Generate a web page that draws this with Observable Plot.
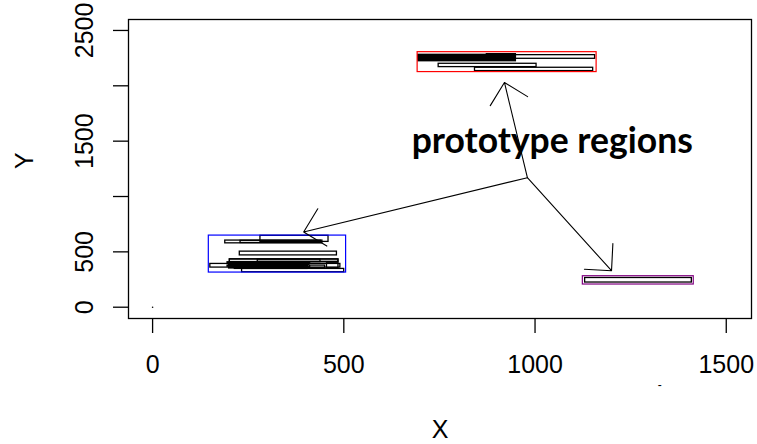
<!DOCTYPE html>
<html><head><meta charset="utf-8">
<script src="https://cdn.jsdelivr.net/npm/d3@7"></script>
<script src="https://cdn.jsdelivr.net/npm/@observablehq/plot@0.6"></script>
<style>body{margin:0;background:#fff}</style>
</head><body><div id="chart"></div>
<script>
// Axis ticks
const xTicks = [0, 500, 1000, 1500];
const yTicks = [0, 500, 1000, 1500, 2000, 2500];
const yTickLabels = [0, 500, 1500, 2500];

// Small rectangles (data units)
const rectX1 = [190, 230, 282, 228, 202, 275, 202, 196, 198, 200, 205, 196, 210, 200, 215, 151, 412, 456, 234,
                695, 748, 843, 695, 697, 695, 699, 695, 696, 695, 874,
                1131];
const rectX2 = [444, 440, 460, 482, 486, 486, 439, 412, 405, 410, 400, 408, 395, 410, 405, 491, 451, 486, 501,
                1157, 1004, 1152, 950, 948, 945, 950, 940, 950, 900, 950,
                1410];
const rectY1 = [577, 580, 590, 468, 406, 410, 408, 398, 390, 382, 374, 366, 358, 350, 346, 358, 352, 352, 316,
                2244, 2169, 2133, 2222, 2230, 2238, 2246, 2254, 2262, 2270, 2276,
                223];
const rectY2 = [602, 600, 645, 502, 433, 430, 431, 406, 400, 392, 384, 376, 368, 360, 354, 391, 376, 397, 346,
                2277, 2199, 2163, 2232, 2240, 2248, 2256, 2264, 2272, 2280, 2286,
                264];

// Prototype region boxes
const regionNames = ["blue", "red", "purple"];
const regionX1 = [147, 693, 1125];
const regionX2 = [506, 1161, 1415];
const regionY1 = [313, 2124, 205];
const regionY2 = [647, 2304, 280];
const regionColors = ["#5a5ae6", "#e63232", "#bf5fcf"];

// Arrows from the hub to each region
const arrowFromX = [980, 980, 980];
const arrowFromY = [1170, 1170, 1170];
const arrowToX = [920, 395, 1200];
const arrowToY = [2030, 680, 330];

// Annotation
const annotLabel = ["prototype regions"];
const annotX = [1045];
const annotY = [1500];

// Stray points
const originPt = [{x: 0, y: 0}];
const strayDash = [{x: 1326, y: -704}];

const rects = rectX1.map((d, i) => ({x1: d, x2: rectX2[i], y1: rectY1[i], y2: rectY2[i]}));
const regions = regionNames.map((n, i) => ({name: n, x1: regionX1[i], x2: regionX2[i], y1: regionY1[i], y2: regionY2[i]}));
const arrows = arrowFromX.map((d, i) => ({x1: d, y1: arrowFromY[i], x2: arrowToX[i], y2: arrowToY[i]}));
const annots = annotLabel.map((l, i) => ({label: l, x: annotX[i], y: annotY[i]}));

const font = "'Liberation Sans', Arial, Helvetica, sans-serif";

const chart = Plot.plot({
  width: 757, height: 444,
  marginLeft: 128, marginRight: 6, marginTop: 19, marginBottom: 126,
  x: {domain: [-63, 1566]},
  y: {domain: [-102, 2599]},
  color: {type: "ordinal", domain: regionNames, range: regionColors},
  style: {fontFamily: font, fontSize: "25px", color: "black", background: "white"},
  marks: [
    Plot.frame({stroke: "black", strokeWidth: 1.3}),
    Plot.axisX({ticks: xTicks, tickSize: 15, tickPadding: 22, label: null, fontSize: 25, strokeWidth: 1.3, tickFormat: d => String(d)}),
    Plot.axisY({ticks: yTicks, tickSize: 15, tickFormat: () => "", label: null, strokeWidth: 1.3}),
    Plot.text(yTickLabels, {y: d => d, frameAnchor: "left", text: d => String(d), rotate: -90,
      textAnchor: "middle", lineAnchor: "bottom", dx: -36, fontSize: 25}),
    Plot.text(["X"], {frameAnchor: "bottom", text: d => d, lineAnchor: "bottom", dy: 119, fontSize: 25}),
    Plot.text(["Y"], {frameAnchor: "left", text: d => d, rotate: -90, lineAnchor: "bottom", dx: -96, fontSize: 25}),
    Plot.rect(rects, {x1: "x1", x2: "x2", y1: "y1", y2: "y2", fill: "none", stroke: "black", strokeWidth: 1.3}),
    Plot.rect(regions, {x1: "x1", x2: "x2", y1: "y1", y2: "y2", fill: "none", stroke: "name", strokeWidth: 1.2}),
    Plot.arrow(arrows, {x1: "x1", y1: "y1", x2: "x2", y2: "y2", stroke: "black", strokeWidth: 1.1, headAngle: 90, headLength: 37}),
    Plot.text(annots, {x: "x", y: "y", text: "label", fontFamily: "Lato", fontWeight: "bold", fontSize: 35.5, lineAnchor: "middle"}),
    Plot.dot(originPt, {x: "x", y: "y", r: 0.8, fill: "black", stroke: null}),
    Plot.text(strayDash, {x: "x", y: "y", text: () => "-", fontSize: 12})
  ]
});
document.getElementById("chart").appendChild(chart);
</script>
</body></html>
